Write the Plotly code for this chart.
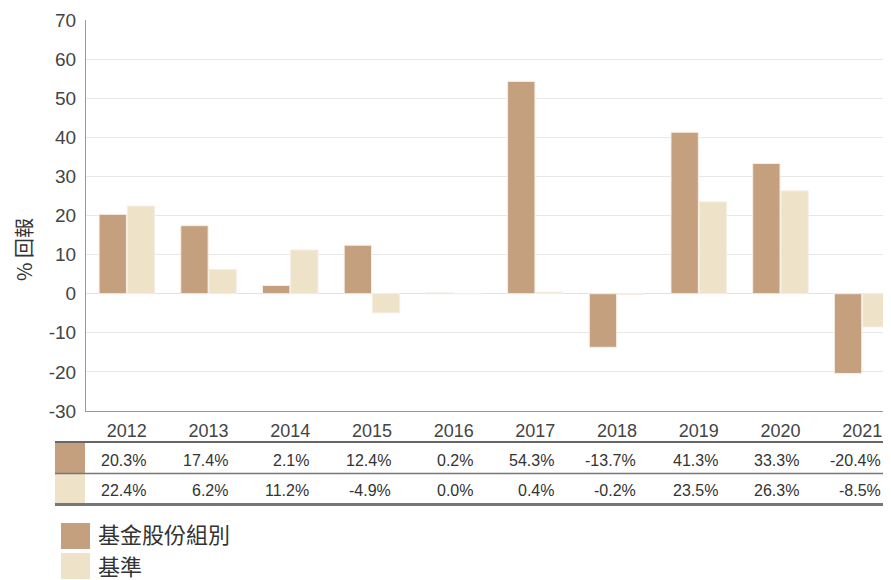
import plotly.graph_objects as go

years = ["2012", "2013", "2014", "2015", "2016", "2017", "2018", "2019", "2020", "2021"]
fund = [20.3, 17.4, 2.1, 12.4, 0.2, 54.3, -13.7, 41.3, 33.3, -20.4]
bench = [22.4, 6.2, 11.2, -4.9, 0.0, 0.4, -0.2, 23.5, 26.3, -8.5]
series_names = ["基金股份組別", "基準"]
colors = ["#C4A07F", "#EEE3C8"]
y_ticks = [-30, -20, -10, 0, 10, 20, 30, 40, 50, 60, 70]

# page body adds an 8px offset; coordinates below are in screenshot pixels
OFF = 8
W, H = 891 - OFF, 580 - OFF
PL, PT, PB = 86, 20, 411          # plot left/top/bottom on screen
CAT_W = 81.7                       # category spacing on screen
L = PL - OFF
T = PT - OFF
B = H - (PB - OFF)
pw = W - L
ph = PB - PT

def py(p):
    return (PB - p) / ph

def px(p):
    return (p - PL) / pw

FONT = "Liberation Sans, Arial, sans-serif"
CJK = "Noto Sans CJK TC, " + FONT

fig = go.Figure()
for name, vals, c in zip(series_names, [fund, bench], colors):
    fig.add_trace(go.Bar(x=years, y=vals, name=name,
                         marker=dict(color=c, line=dict(color="#F6EEE6", width=1)),
                         showlegend=False))

x_hi = -0.5 + pw / CAT_W

fig.update_layout(
    width=W, height=H,
    margin=dict(l=L, r=0, t=T, b=B, autoexpand=False),
    paper_bgcolor="white", plot_bgcolor="white",
    barmode="group", bargap=0.31, bargroupgap=0.03,
    font=dict(family=FONT, color="#444"),
    showlegend=False,
    xaxis=dict(type="category", range=[-0.5, x_hi], showline=True, linecolor="#999", linewidth=1,
               tickfont=dict(size=18, color="#444"), ticks="", showgrid=False, automargin=False,
               ticklabelstandoff=3),
    yaxis=dict(range=[-30, 70], tickvals=y_ticks, ticktext=[str(v) for v in y_ticks],
               showline=True, linecolor="#999", linewidth=1,
               gridcolor="#E8E8E8", gridwidth=1, zeroline=True, zerolinecolor="#E2E2E2", zerolinewidth=1,
               tickfont=dict(size=19, color="#444"), ticks="", ticklabelstandoff=5, automargin=False),
)

shapes = []
annots = []
# y axis title
annots.append(dict(x=px(23), y=py(249), xref="paper", yref="paper", text="% 回報", textangle=-90,
                   showarrow=False, xanchor="center", yanchor="middle",
                   font=dict(size=20, color="#333", family=CJK)))

# data table under the axis
row_tops = [442, 473.5]
row_bots = [473.5, 504]
text_y = [460.5, 490]
for i, (vals, c) in enumerate(zip([fund, bench], colors)):
    shapes.append(dict(type="rect", xref="paper", yref="paper", x0=px(55), x1=px(85),
                       y0=py(row_bots[i]), y1=py(row_tops[i]), fillcolor=c, line=dict(width=0), layer="above"))
    for j, v in enumerate(vals):
        annots.append(dict(x=j, y=py(text_y[i]), xref="x", yref="paper", text=f"{v:.1f}%", showarrow=False,
                           xshift=21, xanchor="right", yanchor="middle",
                           font=dict(size=16, color="#333", family=FONT)))
shapes.append(dict(type="line", xref="paper", yref="paper", x0=px(55), x1=1, y0=py(442), y1=py(442),
                   line=dict(color="#666", width=2)))
shapes.append(dict(type="line", xref="paper", yref="paper", x0=px(55), x1=1, y0=py(473.5), y1=py(473.5),
                   line=dict(color="#777", width=1.5)))
shapes.append(dict(type="line", xref="paper", yref="paper", x0=px(55), x1=1, y0=py(504.5), y1=py(504.5),
                   line=dict(color="#777", width=3)))

# legend
leg_y = [(523, 549), (553, 579)]
text_cy = [533, 564.5]
for (y0, y1), cy, name, c in zip(leg_y, text_cy, series_names, colors):
    shapes.append(dict(type="rect", xref="paper", yref="paper", x0=px(61), x1=px(90),
                       y0=py(y1), y1=py(y0), fillcolor=c, line=dict(width=0)))
    annots.append(dict(x=px(96), y=py(cy), xref="paper", yref="paper", text=name,
                       showarrow=False, xanchor="left", yanchor="middle",
                       font=dict(size=22, color="#333", family=CJK)))

fig.update_layout(shapes=shapes, annotations=annots)
fig.write_html("out.html")
